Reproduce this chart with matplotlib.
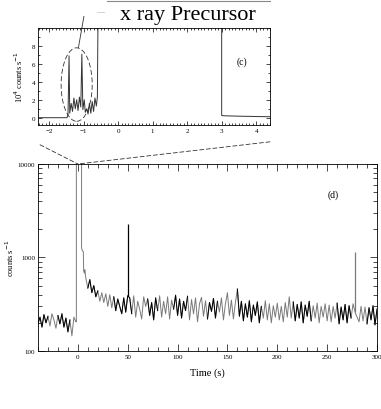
import numpy as np
import matplotlib
matplotlib.use('Agg')
import matplotlib.pyplot as plt
from matplotlib.patches import Ellipse, ConnectionPatch
from matplotlib.ticker import MultipleLocator, LogLocator, FixedLocator, FixedFormatter, NullFormatter

plt.rcParams['font.family'] = ['Liberation Serif', 'DejaVu Serif']

# --- panel (c): precursor, units of 10^4 counts/s ---
prec_time = [-2.4, -1.48, -1.45, -1.42, -1.40, -1.36, -1.32, -1.28, -1.24, -1.20,
             -1.16, -1.12, -1.08, -1.05, -1.02, -0.98, -0.95, -0.91, -0.87, -0.83,
             -0.79, -0.75, -0.71, -0.67, -0.63, -0.60, -0.58, 3.0, 3.0, 3.05,
             3.2, 3.4, 3.6, 3.8, 4.0, 4.2, 4.5]
prec_rate = [0.0, 0.0, 0.4, 6.9, 0.5, 1.6, 0.7, 2.2, 1.0, 2.0,
             0.8, 2.3, 1.2, 7.1, 0.9, 2.0, 0.6, 1.0, 0.4, 1.6,
             0.5, 1.8, 0.7, 2.2, 1.3, 2.3, 12.0, 12.0, 0.25, 0.22,
             0.2, 0.18, 0.16, 0.15, 0.13, 0.12, 0.1]

# --- panel (d): full light curve, counts/s ---
pre_time = np.arange(-40, -1, 2)
pre_rate = [195, 230, 180, 245, 200, 235, 185, 250, 215, 175,
            240, 195, 250, 180, 225, 160, 215, 145, 230, 205]

burst_time = [-1.5, -1.5, 3.7, 3.7, 4.5, 5.5, 5.8, 6.5, 7.0]
burst_rate = [205, 30000, 30000, 1270, 1180, 1150, 720, 680, 740]

tail_time = np.arange(8, 301, 2)
tail_rate = [600, 470, 580, 420, 500, 380, 440, 340, 420, 330, 410, 300,
             400, 290, 380, 270, 360, 300, 250, 370, 260, 390,
             370, 250, 390, 230, 340, 280, 220, 380, 300, 360, 240, 330, 215,
             370, 270, 390, 230, 340, 250, 380, 220, 350, 280, 395, 240,
             360, 225, 340, 270, 385, 215, 355, 250, 370, 205, 320, 375, 235,
             345, 220, 330, 265, 365, 225, 340, 260, 370, 215, 320, 420,
             240, 350, 220, 330, 460, 235, 340, 210, 320, 230, 345, 205, 310,
             240, 335, 200, 300, 225, 345, 215, 320, 200, 305, 230, 325,
             215, 300, 205, 330, 230, 380, 225, 335, 210, 315, 225, 335, 200,
             310, 235, 340, 210, 305, 225, 325, 200, 300, 230, 320, 210,
             310, 205, 300, 225, 325, 195, 295, 215, 315, 200, 305, 225, 320,
             260, 230, 205, 300, 210, 295, 195, 290, 215, 305, 190, 280]

# single-bin spikes
spike_time = [50, 278]
spike_rate = [2300, 1150]
spike_color = ['black', '#7a7a7a']

black_spans = [(-40, -30), (-20, -8), (10, 20), (35, 55), (70, 80), (95, 110),
               (130, 140), (160, 185), (215, 235), (260, 275), (290, 301)]

fig = plt.figure(figsize=(3.81, 4.10), dpi=100)
ax1 = fig.add_axes([0.0997, 0.693, 0.609, 0.236])
ax2 = fig.add_axes([0.0997, 0.1415, 0.8898, 0.4561])

# top panel
ax1.plot(prec_time, prec_rate, color='#333333', lw=0.7)
ax1.set_xlim(-2.32, 4.4)
ax1.set_ylim(-0.8, 10)
ax1.xaxis.set_major_locator(MultipleLocator(1))
ax1.xaxis.set_minor_locator(MultipleLocator(0.1))
ax1.yaxis.set_major_locator(FixedLocator([0, 2, 4, 6, 8]))
ax1.yaxis.set_minor_locator(MultipleLocator(1))
ax1.tick_params(which='both', direction='in', top=True, right=True, width=0.5,
                labelsize=5, pad=2)
ax1.tick_params(which='major', length=3)
ax1.tick_params(which='minor', length=1.5)
ax1.set_ylabel('10$^4$ counts s$^{-1}$', fontsize=6, labelpad=5)
ax1.text(3.6, 6.3, '(c)', fontsize=7, ha='center', va='center')
ax1.add_patch(Ellipse((-1.2, 3.7), 0.9, 8.2, fill=False, ls=(0, (6, 3)),
                      lw=0.6, color='#333333'))
ax1.plot([-1.15, -0.99], [7.8, 11.3], color='#333333', lw=0.6, clip_on=False)
ax1.plot([-0.6, -0.4], [11.8, 11.8], color='#cccccc', lw=0.6, clip_on=False)
for s in ax1.spines.values():
    s.set_linewidth(0.6)

# lower panel
t_all = np.concatenate([pre_time, burst_time, tail_time])
r_all = np.concatenate([pre_rate, burst_rate, tail_rate]).astype(float)
ax2.plot(t_all, r_all, color='#7a7a7a', lw=0.7)
mask = np.zeros_like(t_all, dtype=bool)
for a, b in black_spans:
    mask |= (t_all >= a) & (t_all <= b)
ax2.plot(t_all, np.where(mask, r_all, np.nan), color='black', lw=0.7)
base = np.interp(spike_time, tail_time, tail_rate)
ax2.vlines(spike_time, base, spike_rate, colors=spike_color, lw=0.9)
ax2.set_yscale('log')
ax2.set_xlim(-40, 300)
ax2.set_ylim(100, 10000)
ax2.yaxis.set_major_locator(FixedLocator([100, 1000, 10000]))
ax2.yaxis.set_major_formatter(FixedFormatter(['100', '1000', '10000']))
ax2.yaxis.set_minor_locator(LogLocator(base=10, subs=np.arange(2, 10)))
ax2.yaxis.set_minor_formatter(NullFormatter())
ax2.xaxis.set_major_locator(MultipleLocator(50))
ax2.xaxis.set_minor_locator(MultipleLocator(10))
ax2.tick_params(which='both', direction='in', top=True, right=True, width=0.5,
                labelsize=5, pad=2)
ax2.tick_params(which='major', length=5)
ax2.tick_params(which='minor', length=3)
ax2.set_xlabel('Time (s)', fontsize=7.5, labelpad=6)
ax2.set_ylabel('counts s$^{-1}$', fontsize=6, labelpad=1)
ax2.text(256, 4800, '(d)', fontsize=7, ha='center', va='center')
for s in ax2.spines.values():
    s.set_linewidth(0.6)

# zoom connector lines
for xa, ya in [(0.009, -0.206), (1.0, -0.175)]:
    con = ConnectionPatch(xyA=(xa, ya), coordsA=ax1.transAxes,
                          xyB=(0, 10000), coordsB=ax2.transData,
                          ls=(0, (5, 3)), lw=0.6, color='#333333')
    fig.add_artist(con)

# title with overline
fig.text(0.494, 0.963, 'x ray Precursor', fontsize=16, ha='center', va='center')
fig.add_artist(plt.Line2D([0.281, 0.709], [0.994, 0.994], color='#888888',
                          lw=0.8, transform=fig.transFigure))

fig.savefig('out.png', dpi=100)
